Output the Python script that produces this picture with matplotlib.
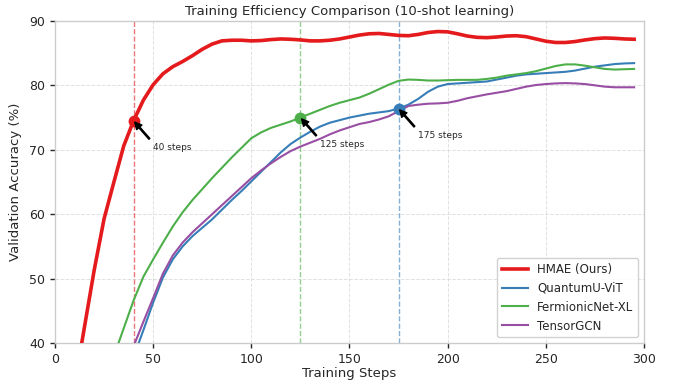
import numpy as np
import matplotlib
matplotlib.use('Agg')
import matplotlib.pyplot as plt

# ── Styling ───────────────────────────────────────────────────────────────────
plt.rcParams.update({
    'font.family': 'DejaVu Sans',
    'font.size': 9,
    'text.color': '#262626',
    'axes.labelcolor': '#262626',
    'xtick.color': '#262626',
    'ytick.color': '#262626',
    'axes.edgecolor': '#cccccc',
    'axes.linewidth': 1.0,
    'axes.grid': True,
    'grid.color': '#d9d9d9',
    'grid.linestyle': '--',
    'grid.linewidth': 0.7,
    'grid.alpha': 0.8,
    'xtick.major.size': 3.5,
    'ytick.major.size': 3.5,
    'xtick.major.width': 1.0,
    'ytick.major.width': 1.0,
})

# ── Data ──────────────────────────────────────────────────────────────────────
steps = np.arange(0, 300, 5)

hmae = [18.0, 24.5, 33.5, 42.5, 51.4, 59.3, 65.0, 70.6, 74.5, 77.7,
        80.1, 81.8, 82.9, 83.7, 84.6, 85.6, 86.4, 86.9, 87.0, 87.0,
        86.9, 86.95, 87.1, 87.2, 87.15, 87.05, 86.9, 86.9, 87.0, 87.2,
        87.5, 87.8, 88.0, 88.05, 87.9, 87.75, 87.7, 87.9, 88.2, 88.35,
        88.3, 88.0, 87.65, 87.45, 87.4, 87.5, 87.65, 87.7, 87.55, 87.2,
        86.85, 86.65, 86.65, 86.8, 87.05, 87.25, 87.35, 87.3, 87.2, 87.15]

quantum_vit = [5.0, 10.0, 15.0, 19.0, 23.0, 27.0, 31.0, 34.5, 37.8, 42.0,
               46.3, 50.2, 53.0, 55.0, 56.6, 57.9, 59.2, 60.7, 62.2, 63.6,
               65.1, 66.6, 68.1, 69.6, 70.9, 71.9, 72.8, 73.6, 74.2, 74.6,
               75.0, 75.3, 75.6, 75.8, 76.0, 76.4, 77.0, 77.9, 79.0, 79.8,
               80.2, 80.3, 80.4, 80.5, 80.6, 80.9, 81.2, 81.5, 81.7, 81.8,
               81.9, 82.0, 82.1, 82.3, 82.6, 82.9, 83.1, 83.3, 83.4, 83.45]

fermionic = [10.0, 15.0, 20.0, 25.0, 29.5, 34.0, 38.0, 42.3, 46.6, 50.3,
             53.0, 55.6, 58.1, 60.3, 62.2, 63.9, 65.6, 67.2, 68.8, 70.3,
             71.8, 72.7, 73.4, 73.9, 74.4, 75.0, 75.6, 76.2, 76.8, 77.3,
             77.7, 78.1, 78.7, 79.4, 80.1, 80.7, 80.9, 80.85, 80.75, 80.75,
             80.8, 80.85, 80.85, 80.85, 81.0, 81.2, 81.5, 81.7, 81.9, 82.2,
             82.6, 83.0, 83.25, 83.25, 83.05, 82.8, 82.55, 82.45, 82.5, 82.55]

tensor_gcn = [5.0, 10.0, 15.0, 19.5, 23.5, 27.5, 31.5, 35.5, 39.5, 43.3,
              47.0, 50.8, 53.6, 55.6, 57.2, 58.6, 60.0, 61.4, 62.8, 64.2,
              65.6, 66.8, 67.9, 68.9, 69.8, 70.5, 71.1, 71.7, 72.4, 73.0,
              73.5, 74.0, 74.3, 74.7, 75.2, 76.0, 76.8, 77.0, 77.15, 77.2,
              77.3, 77.6, 78.0, 78.3, 78.6, 78.85, 79.1, 79.45, 79.8, 80.05,
              80.2, 80.3, 80.35, 80.3, 80.2, 80.0, 79.8, 79.7, 79.7, 79.7]

model_names = ['HMAE (Ours)', 'QuantumU-ViT', 'FermionicNet-XL', 'TensorGCN']
colors = ['#e41a1c', '#377eb8', '#4daf4a', '#984ea3']
widths = [2.6, 1.5, 1.5, 1.5]

# steps where each model first reaches its threshold (marked on the curve)
threshold_steps = {0: 40, 2: 125, 1: 175}

# ── Plot ──────────────────────────────────────────────────────────────────────
fig, ax = plt.subplots(figsize=(6.75, 3.8), dpi=100)
fig.subplots_adjust(left=0.0815, right=0.954, top=0.945, bottom=0.097)

series = [hmae, quantum_vit, fermionic, tensor_gcn]
for vals, name, c, lw in zip(series, model_names, colors, widths):
    ax.plot(steps, vals, color=c, linewidth=lw, label=name, zorder=3)

for idx, step in threshold_steps.items():
    c = colors[idx]
    y = series[idx][list(steps).index(step)]
    ax.axvline(step, color=c, linestyle='--', linewidth=1.0, alpha=0.6, zorder=2)
    ax.plot(step, y, 'o', color=c, markersize=7.5, zorder=4)
    ax.annotate(f'{step} steps', xy=(step, y), xytext=(14, -21),
                textcoords='offset points', fontsize=6.5,
                arrowprops=dict(facecolor='black', edgecolor='black',
                                width=0.9, headwidth=5, headlength=5,
                                shrink=0.06),
                zorder=5)

ax.set_xlim(0, 300)
ax.set_ylim(40, 90)
ax.set_xticks(np.arange(0, 301, 50))
ax.set_yticks(np.arange(40, 91, 10))
ax.tick_params(labelsize=9)
ax.set_xlabel('Training Steps', fontsize=9.5, labelpad=1)
ax.set_ylabel('Validation Accuracy (%)', fontsize=9.5, labelpad=5)
ax.set_title('Training Efficiency Comparison (10-shot learning)', fontsize=9.5, pad=4)
ax.legend(loc='lower right', fontsize=8.5, framealpha=0.9, edgecolor='#cccccc',
          fancybox=True, handlelength=2.2)

plt.savefig('out.png', dpi=100)
